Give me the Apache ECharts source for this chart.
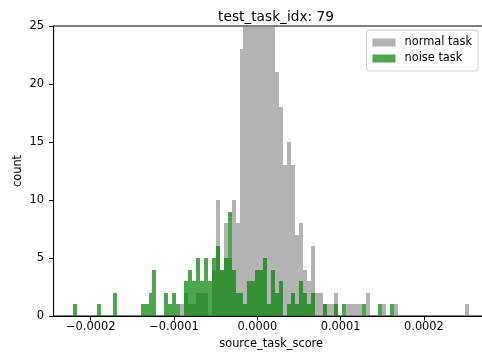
<!DOCTYPE html>
<html>
<head>
<meta charset="utf-8">
<script src="https://cdn.jsdelivr.net/npm/echarts@6/dist/echarts.min.js"></script>
<style>
html,body{margin:0;padding:0;background:#fff;}
#chart{width:482px;height:352px;}
</style>
</head>
<body>
<div id="chart"></div>
<script>
// Histogram definition: 100 shared bins between the overall data min and max
const binMin = -0.0002208;
const binMax = 0.0002540;
const nBins = 100;

// counts per bin (index 0..99)
const normalCounts = [
  0,0,0,0,0,0,0,0,0,0,
  0,0,0,0,0,0,0,0,0,0,
  0,0,0,0,0,0,0,1,2,1,
  1,2,2,2,0,4,10,4,8,5,
  10,8,23,27,31,34,36,33,30,28,
  26,21,18,13,15,13,7,8,4,3,
  6,2,2,1,1,1,2,0,0,1,
  1,1,1,0,2,0,0,0,1,0,
  0,1,0,0,0,0,0,0,0,0,
  0,0,0,0,0,0,0,0,0,1
];
const noiseCounts = [
  1,0,0,0,0,0,1,0,0,0,
  2,0,0,0,0,0,0,1,1,2,
  4,0,0,2,1,2,1,0,3,4,
  3,5,3,5,3,5,6,4,5,9,
  4,2,2,1,3,3,4,4,5,1,
  4,2,3,0,1,2,1,3,2,1,
  2,0,0,1,0,0,1,0,1,0,
  0,0,0,1,0,0,0,1,0,0,
  1,0,0,0,0,0,0,0,0,0,
  0,0,0,0,0,0,0,0,0,0
];
const seriesNames = ['normal task', 'noise task'];
const xTickValues = [-0.0002, -0.0001, 0.0, 0.0001, 0.0002];
const yTickValues = [0, 5, 10, 15, 20, 25];

const binWidth = (binMax - binMin) / nBins;
function toBins(counts) {
  return counts.map((c, k) => [binMin + k * binWidth, binMin + (k + 1) * binWidth, c]);
}
const FONT = 'DejaVu Sans';

function makeRender(fill, opacity) {
  return function (params, api) {
    const x0 = api.value(0), x1 = api.value(1), c = api.value(2);
    if (!c) return null;
    const p0 = api.coord([x0, c]);
    const p1 = api.coord([x1, 0]);
    const xa = Math.round(p0[0]), xb = Math.round(p1[0]);
    const ya = Math.round(p0[1]), yb = Math.round(p1[1]);
    const shape = echarts.graphic.clipRectByRect(
      {x: xa, y: ya, width: xb - xa, height: yb - ya},
      {x: params.coordSys.x, y: params.coordSys.y, width: params.coordSys.width, height: params.coordSys.height}
    );
    if (!shape) return null;
    return {type: 'rect', shape: shape, style: {fill: fill, opacity: opacity}};
  };
}

const chart = echarts.init(document.getElementById('chart'), null, {renderer: 'canvas'});
const fmt = v => {
  const s = Math.abs(v) < 1e-12 ? '0.0000' : Math.abs(v).toFixed(4);
  return v < -1e-12 ? '\u2212' + s : s;
};
chart.setOption({
  animation: false,
  textStyle: {fontFamily: FONT},
  title: {
    text: 'test_task_idx: 79',
    left: 271, top: 5, textAlign: 'center',
    textStyle: {fontFamily: FONT, fontSize: 13.7, fontWeight: 'normal', color: '#000'}
  },
  grid: {left: 53.6, top: 26, width: 435.1, height: 290, show: true, borderColor: '#000', borderWidth: 1,
         backgroundColor: 'transparent', containLabel: false, outerBoundsMode: 'none'},
  legend: {
    orient: 'vertical', right: 4, top: 30,
    padding: [7, 6, 7, 6], itemGap: 5, itemWidth: 23, itemHeight: 8,
    backgroundColor: 'rgba(255,255,255,0.8)', borderColor: '#cccccc', borderWidth: 1, borderRadius: 3,
    textStyle: {fontFamily: FONT, fontSize: 11.4, color: '#000', padding: [0, 0, 0, 4]},
    data: [
      {name: seriesNames[0], icon: 'rect', itemStyle: {color: '#b3b3b3'}},
      {name: seriesNames[1], icon: 'rect', itemStyle: {color: '#4ca64c'}}
    ]
  },
  xAxis: {
    type: 'value', min: binMin - 0.05 * (binMax - binMin), max: binMax + 0.05 * (binMax - binMin),
    name: 'source_task_score', nameLocation: 'middle', nameGap: 23,
    nameTextStyle: {fontFamily: FONT, fontSize: 11.4, color: '#000'},
    axisLine: {show: true, onZero: false, lineStyle: {color: '#000', width: 1}},
    axisTick: {show: true, length: 4.5, lineStyle: {color: '#000'}, customValues: xTickValues},
    axisLabel: {fontFamily: FONT, fontSize: 11.4, color: '#000', margin: 6, customValues: xTickValues, formatter: fmt},
    splitLine: {show: false}
  },
  yAxis: {
    type: 'value', min: 0, max: 25, interval: 5,
    name: 'count', nameLocation: 'middle', nameGap: 30, nameRotate: 90, nameMoveOverlap: false,
    nameTextStyle: {fontFamily: FONT, fontSize: 11.4, color: '#000'},
    axisLine: {show: true, onZero: false, lineStyle: {color: '#000', width: 1}},
    axisTick: {show: true, length: 4.5, lineStyle: {color: '#000'}, customValues: yTickValues},
    axisLabel: {fontFamily: FONT, fontSize: 11.4, color: '#000', margin: 9.5, customValues: yTickValues},
    splitLine: {show: false}
  },
  series: [
    {name: seriesNames[0], type: 'custom', renderItem: makeRender('#808080', 0.6), data: toBins(normalCounts), encode: {x: [0, 1], y: 2}, itemStyle: {color: '#b3b3b3'}},
    {name: seriesNames[1], type: 'custom', renderItem: makeRender('#008000', 0.7), data: toBins(noiseCounts), encode: {x: [0, 1], y: 2}, itemStyle: {color: '#4ca64c'}}
  ]
});
</script>
</body>
</html>
